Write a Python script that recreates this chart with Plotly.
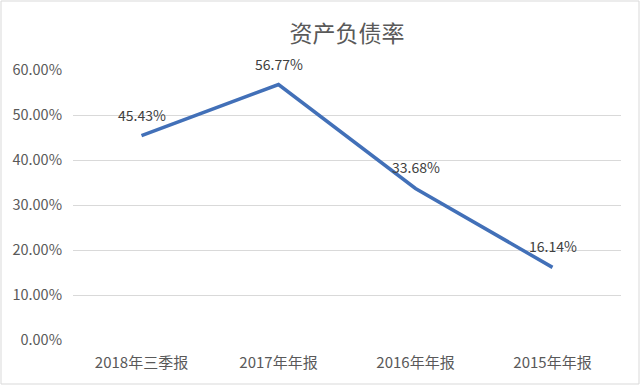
import plotly.graph_objects as go

categories = ["2018年三季报", "2017年年报", "2016年年报", "2015年年报"]
values = [0.4543, 0.5677, 0.3368, 0.1614]
value_labels = ["45.43%", "56.77%", "33.68%", "16.14%"]
y_ticks = [0, 0.1, 0.2, 0.3, 0.4, 0.5, 0.6]
y_tick_labels = ["0.00%", "10.00%", "20.00%", "30.00%", "40.00%", "50.00%", "60.00%"]

W, H = 640, 385
L, R, T, B = 73, 19, 70, 45
pw, ph = W - L - R, H - T - B

font_family = "Noto Sans CJK SC, Noto Sans, sans-serif"
grey = "#595959"

fig = go.Figure()
fig.add_trace(go.Scatter(
    x=categories, y=values, mode="lines",
    line=dict(color="#4270B8", width=3.5),
    hoverinfo="skip", showlegend=False,
))

for c, v, t in zip(categories, values, value_labels):
    fig.add_annotation(x=c, y=v, text=t, showarrow=False, yshift=21,
                       font=dict(size=14, color="#404040", family=font_family))

# chart-area border
fig.add_shape(type="rect", xref="paper", yref="paper",
              x0=(1 - L) / pw, x1=(W - 1 - L) / pw,
              y0=-(H - 1 - T - ph) / ph, y1=1 + (T - 1) / ph,
              line=dict(color="#D9D9D9", width=1), layer="below")

fig.update_layout(
    width=W, height=H,
    margin=dict(l=L, r=R, t=T, b=B),
    paper_bgcolor="white", plot_bgcolor="white",
    title=dict(text="资产负债率", x=0.5, xref="paper", xanchor="center",
               y=1 - 34 / H, yanchor="middle",
               font=dict(size=23, color=grey, family=font_family)),
    font=dict(family=font_family, color=grey),
    xaxis=dict(type="category", showgrid=False, zeroline=False,
               showline=False, ticks="", range=[-0.5, 3.5],
               ticklabelstandoff=12,
               tickfont=dict(size=15, color=grey, family=font_family)),
    yaxis=dict(range=[0, 0.6], tickvals=y_ticks, ticktext=y_tick_labels,
               showgrid=True, gridcolor="#D9D9D9", gridwidth=1,
               zeroline=False, showline=False, ticks="",
               ticklabelstandoff=10,
               tickfont=dict(size=14.5, color=grey, family=font_family)),
)

fig.write_html("out.html", config={"displayModeBar": False},
               post_script="document.body.style.margin='0px';document.body.style.padding='0px';")
